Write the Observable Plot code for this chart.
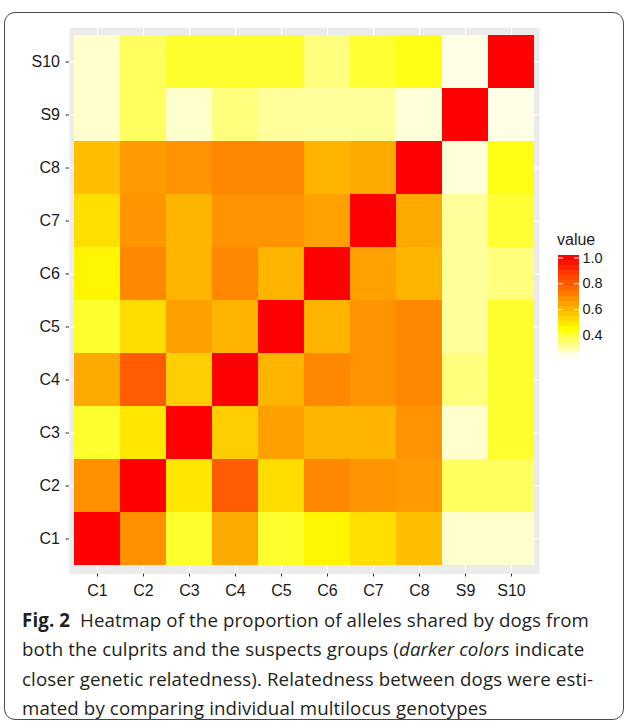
<!DOCTYPE html>
<html>
<head>
<meta charset="utf-8">
<script src="https://cdn.jsdelivr.net/npm/d3@7"></script>
<script src="https://cdn.jsdelivr.net/npm/@observablehq/plot@0.6"></script>
<style>
  html, body { margin: 0; padding: 0; background: #fff; }
  #wrap { position: relative; width: 624px; height: 721px; overflow: hidden; }
  #box { position: absolute; left: 4px; top: 12px; width: 618px; height: 706px;
         border: 1.3px solid #4a4a4a; border-radius: 11px; }
  #main { position: absolute; left: 0; top: 0; }
  #legend { position: absolute; left: 540px; top: 230px; }
  #ltitle { position: absolute; left: 557px; top: 231px; font: 16px "Liberation Sans", Arial, sans-serif; color: #1a1a1a; }
  #cap { position: absolute; left: 22px; top: 609.5px; font-family: "Open Sans", sans-serif; font-size: 18.7px;
         color: #231f20; white-space: nowrap; letter-spacing: 0.12px; }
  #cap div { height: 29.5px; line-height: 20px; }
  #cap div.last { height: 20px; }
  #cap b { font-weight: 700; }
</style>
</head>
<body>
<div id="wrap">
  <div id="box"></div>
  <div id="main"></div>
  <div id="ltitle">value</div>
  <div id="legend"></div>
  <div id="cap">
    <div><b>Fig. 2</b>&nbsp; Heatmap of the proportion of alleles shared by dogs from</div>
    <div>both the culprits and the suspects groups (<i>darker colors</i> indicate</div>
    <div>closer genetic relatedness). Relatedness between dogs were esti-</div>
    <div class="last">mated by comparing individual multilocus genotypes</div>
  </div>
</div>
<script>
// ---- data ----
const dogs = ["C1", "C2", "C3", "C4", "C5", "C6", "C7", "C8", "S9", "S10"];
// proportion of shared alleles; row i = dog i, column j = dog j
const sharedC1  = [1.00, 0.68, 0.40, 0.625, 0.40, 0.46, 0.51, 0.58, 0.27, 0.27];
const sharedC2  = [0.68, 1.00, 0.49, 0.80, 0.515, 0.70, 0.67, 0.66, 0.36, 0.36];
const sharedC3  = [0.40, 0.49, 1.00, 0.545, 0.65, 0.60, 0.60, 0.675, 0.27, 0.40];
const sharedC4  = [0.625, 0.80, 0.545, 1.00, 0.60, 0.70, 0.675, 0.70, 0.335, 0.40];
const sharedC5  = [0.40, 0.515, 0.65, 0.60, 1.00, 0.60, 0.675, 0.70, 0.31, 0.40];
const sharedC6  = [0.46, 0.70, 0.60, 0.70, 0.60, 1.00, 0.645, 0.60, 0.31, 0.335];
const sharedC7  = [0.51, 0.67, 0.60, 0.675, 0.675, 0.645, 1.00, 0.625, 0.31, 0.395];
const sharedC8  = [0.58, 0.66, 0.675, 0.70, 0.70, 0.60, 0.625, 1.00, 0.26, 0.42];
const sharedS9  = [0.27, 0.36, 0.27, 0.335, 0.31, 0.31, 0.31, 0.26, 1.00, 0.25];
const sharedS10 = [0.27, 0.36, 0.40, 0.40, 0.40, 0.335, 0.395, 0.42, 0.25, 1.00];
const legendTicks = [0.4, 0.6, 0.8, 1.0];
const valueDomain = [0.25, 1];

const matrix = [sharedC1, sharedC2, sharedC3, sharedC4, sharedC5, sharedC6, sharedC7, sharedC8, sharedS9, sharedS10];
const cells = dogs.flatMap((r, i) => dogs.map((c, j) => ({row: r, col: c, value: matrix[i][j]})));

// heat.colors-like palette: t = 0 lightest (low), t = 1 red (high)
function heat(t) {
  const u = 1 - t;
  if (u <= 0.75) return d3.rgb(255, 255 * u / 0.75, 0).formatHex();
  const s = 1 - 0.9 * (u - 0.75) / 0.25;
  return d3.rgb(255, 255, 255 * (1 - s)).formatHex();
}
const colorOpts = {type: "linear", domain: valueDomain, interpolate: (t) => heat(t)};

const font = "Liberation Sans";

const main = Plot.plot({
  width: 624, height: 600,
  marginLeft: 69, marginRight: 85, marginTop: 27.3, marginBottom: 26.5,
  x: {domain: dogs, padding: 0, insetLeft: 4.3, insetRight: 4.7, label: null},
  y: {domain: dogs.slice().reverse(), padding: 0, insetTop: 5, insetBottom: 6.2, label: null},
  color: colorOpts,
  style: {fontFamily: font, fontSize: "16px", color: "#1a1a1a", background: "transparent", overflow: "visible"},
  marks: [
    Plot.frame({fill: "#EBEBEB", stroke: null}),
    Plot.gridX({stroke: "white", strokeOpacity: 1, strokeWidth: 1.2}),
    Plot.gridY({stroke: "white", strokeOpacity: 1, strokeWidth: 1.2}),
    Plot.cell(cells, {x: "col", y: "row", fill: "value", inset: 0, shapeRendering: "crispEdges"}),
    Plot.axisX({tickSize: 3, tickPadding: 8, stroke: "#333", fill: "#1a1a1a", fontSize: 16, fontFamily: font, label: null}),
    Plot.axisY({tickSize: 3.5, tickPadding: 6, stroke: "#333", fill: "#1a1a1a", fontSize: 16, fontFamily: font, label: null})
  ]
});
document.getElementById("main").append(main);

// vertical colour bar legend (20 bins, like ggplot's colourbar)
const nbin = 20;
const step = (valueDomain[1] - valueDomain[0]) / (nbin - 1);
const bins = d3.range(nbin).map(i => ({v: valueDomain[0] + i * step}));
const legend = Plot.plot({
  width: 84, height: 150,
  marginLeft: 18, marginRight: 45, marginTop: 25, marginBottom: 23.3,
  y: {domain: [valueDomain[0] - step / 2, valueDomain[1] + step / 2], label: null},
  color: colorOpts,
  style: {fontFamily: font, fontSize: "14px", color: "#1a1a1a", background: "transparent", overflow: "visible"},
  marks: [
    Plot.rect(bins, {y1: d => d.v - step / 2, y2: d => d.v + step / 2, fill: "v", shapeRendering: "crispEdges"}),
    Plot.tickY(legendTicks, {y: d => d, stroke: "white", strokeWidth: 1, insetRight: 16}),
    Plot.tickY(legendTicks, {y: d => d, stroke: "white", strokeWidth: 1, insetLeft: 16}),
    Plot.axisY(legendTicks, {anchor: "right", tickSize: 0, tickPadding: 3, tickFormat: d3.format(".1f"), fontSize: 14.5, fontFamily: font, fill: "#1a1a1a", label: null})
  ]
});
document.getElementById("legend").append(legend);
</script>
</body>
</html>
